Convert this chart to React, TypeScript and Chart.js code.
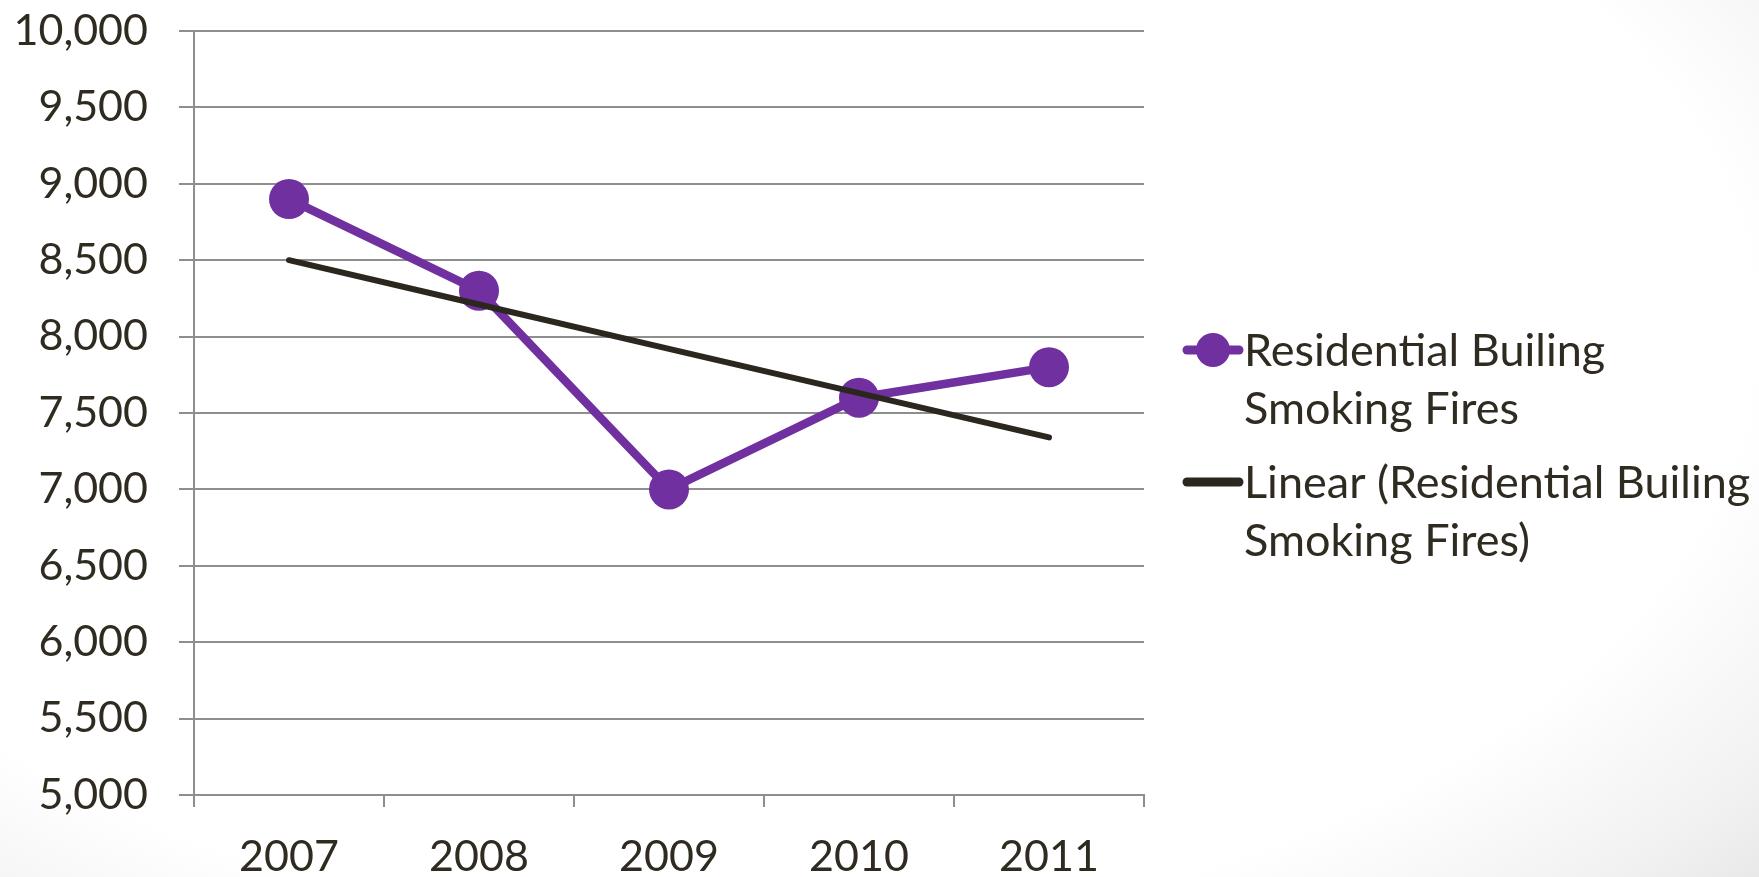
import React, { useEffect, useRef } from "react";
import { Chart, registerables } from "chart.js";

Chart.register(...registerables);

// Yearly counts of residential building smoking fires
const years = ["2007", "2008", "2009", "2010", "2011"];
const smokingFires = [8900, 8300, 7000, 7600, 7800];
// Linear trend of the series above
const linearTrend = [8500, 8210, 7920, 7630, 7340];

const yMin = 5000;
const yMax = 10000;
const yStep = 500;

const seriesLegendLines = [
  ["Residential Builing", "Smoking Fires"],
  ["Linear (Residential Builing", "Smoking Fires)"],
];

const PURPLE = "#7030A0";
const TREND = "#2B271E";
const TEXT = "#2F2B20";
const GRID = "#8E8E8E";
const FONT = "Lato, 'Open Sans', sans-serif";

// Draws the two-entry legend to the right of the plot area
const sideLegend = {
  id: "sideLegend",
  afterDraw(chart: any) {
    const ctx = chart.ctx;
    const area = chart.chartArea;
    const x0 = area.right + 39;
    const markW = 60;
    const textX = x0 + markW + 1;
    const lineGap = 58;
    const itemGap = 132;
    const firstMid = 350;
    ctx.save();
    ctx.font = `45px ${FONT}`;
    ctx.textAlign = "left";
    ctx.textBaseline = "alphabetic";
    seriesLegendLines.forEach((lines, i) => {
      const mid = firstMid + i * itemGap;
      const ds = chart.data.datasets[i];
      ctx.beginPath();
      ctx.strokeStyle = ds.borderColor;
      ctx.lineWidth = 9;
      ctx.lineCap = "round";
      ctx.moveTo(x0 + 4, mid);
      ctx.lineTo(x0 + markW - 4, mid);
      ctx.stroke();
      if (ds.pointRadius > 0) {
        ctx.beginPath();
        ctx.fillStyle = ds.pointBackgroundColor;
        ctx.arc(x0 + markW / 2, mid, 17, 0, Math.PI * 2);
        ctx.fill();
      }
      ctx.fillStyle = TEXT;
      lines.forEach((t, j) => {
        ctx.fillText(t, textX, mid + 16 + j * lineGap);
      });
    });
    ctx.restore();
  },
};

export default function App() {
  const canvasRef = useRef<HTMLCanvasElement | null>(null);

  useEffect(() => {
    document.body.style.margin = "0";
    const canvas = canvasRef.current;
    if (!canvas) return;
    const chart = new Chart(canvas, {
      type: "line",
      data: {
        labels: years,
        datasets: [
          {
            label: seriesLegendLines[0].join(" "),
            data: smokingFires,
            borderColor: PURPLE,
            backgroundColor: PURPLE,
            borderWidth: 8.5,
            pointRadius: 20,
            pointBackgroundColor: PURPLE,
            pointBorderWidth: 0,
            pointHoverRadius: 20,
            tension: 0,
            order: 1,
          },
          {
            label: seriesLegendLines[1].join(" "),
            data: linearTrend,
            borderColor: TREND,
            backgroundColor: TREND,
            borderWidth: 6,
            borderCapStyle: "round",
            pointRadius: 0,
            pointHoverRadius: 0,
            tension: 0,
            order: 0,
          },
        ],
      },
      options: {
        animation: false,
        responsive: true,
        maintainAspectRatio: false,
        layout: { padding: { left: 0, top: 31, right: 615, bottom: 0 } },
        plugins: {
          legend: { display: false },
          tooltip: { enabled: false },
        },
        scales: {
          x: {
            type: "category",
            offset: true,
            grid: {
              offset: true,
              drawOnChartArea: false,
              drawTicks: true,
              tickLength: 12,
              color: GRID,
              lineWidth: 2,
            },
            border: { display: true, color: GRID, width: 2 },
            ticks: {
              color: TEXT,
              font: { family: FONT, size: 43 },
              padding: 24,
              maxRotation: 0,
            },
            afterFit(scale: any) {
              scale.height = 82;
              scale.paddingLeft = 0;
              scale.paddingRight = 0;
            },
          },
          y: {
            min: yMin,
            max: yMax,
            grid: {
              drawTicks: true,
              tickLength: 15,
              color: GRID,
              lineWidth: 2,
            },
            border: { display: true, color: GRID, width: 2 },
            ticks: {
              stepSize: yStep,
              color: TEXT,
              font: { family: FONT, size: 43 },
              padding: 31,
              callback: (v: any) => Number(v).toLocaleString("en-US"),
            },
            afterFit(scale: any) {
              scale.width = 194;
              scale.paddingTop = 0;
              scale.paddingBottom = 0;
            },
          },
        },
      },
      plugins: [sideLegend],
    });
    return () => chart.destroy();
  }, []);

  return (
    <div
      style={{
        position: "fixed",
        left: 0,
        top: 0,
        width: 1759,
        height: 877,
        background:
          "radial-gradient(ellipse 80% 95% at 42% 38%, #ffffff 72%, #f1f1f1 90%, #e6e6e6 100%)",
      }}
    >
      <canvas ref={canvasRef} />
    </div>
  );
}
